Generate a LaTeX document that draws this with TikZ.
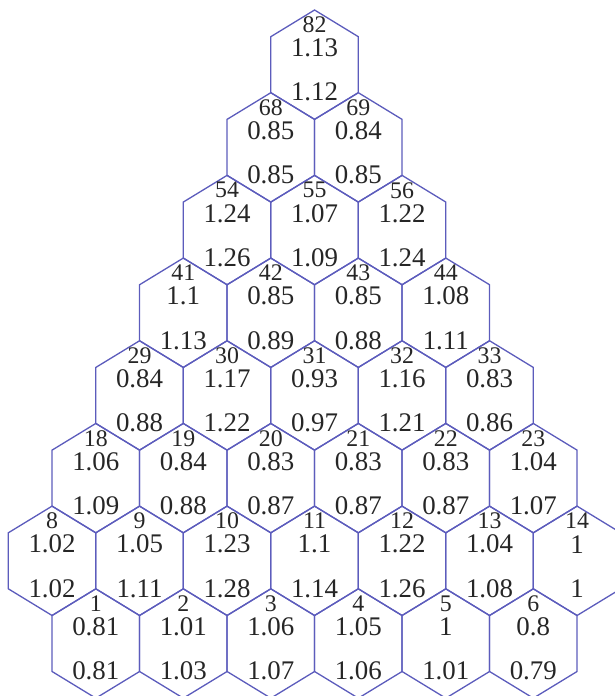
\documentclass[tikz,border=0pt]{standalone}
\usepackage{fontspec}
\setmainfont{Liberation Serif}
\definecolor{hexblue}{RGB}{92,92,188}
\tikzset{hexline/.style={draw=hexblue, line width=0.85pt},
  hextxt/.style={inner sep=0pt, text=black!85, font=\fontsize{17.5}{20}\selectfont},
  idxtxt/.style={hextxt, font=\fontsize{15.5}{18}\selectfont}}
\newcommand{\xzero}{1.19}
\newcommand{\hexa}[5]{%
  \draw[hexline] (#1,#2) +(0,1.25) -- +(1,0.64) -- +(1,-0.64) -- +(0,-1.25) -- +(-1,-0.64) -- +(-1,0.64) -- cycle;
  \node[idxtxt] (n#3) at (#1,#2+0.91) {#3};
  \node[hextxt] (a#3) at (#1,#2+0.38) {#4};
  \node[hextxt] (b#3) at (#1,#2-0.63) {#5};}

\begin{document}
\begin{tikzpicture}
  \useasboundingbox (0,0) rectangle (14.057,15.909);
  \clip (0,0) rectangle (14.057,15.909);
  % row 1 and row 2 (shifted left)
  \foreach \idx/\va/\vb [count=\k from 0] in {1/0.81/0.81, 2/1.01/1.03, 3/1.06/1.07, 4/1.05/1.06, 5/1/1.01, 6/0.8/0.79}
    \hexa{\xzero+1+2*\k}{1.2}{\idx}{\va}{\vb};
  \foreach \idx/\va/\vb [count=\k from 0] in {8/1.02/1.02, 9/1.05/1.11, 10/1.23/1.28, 11/1.1/1.14, 12/1.22/1.26, 13/1.04/1.08, 14/1/1}
    \hexa{\xzero+2*\k}{3.09}{\idx}{\va}{\vb};
  % the triangle above
  \foreach \idx/\va/\vb [count=\k from 0] in {18/1.06/1.09, 19/0.84/0.88, 20/0.83/0.87, 21/0.83/0.87, 22/0.83/0.87, 23/1.04/1.07}
    \hexa{\xzero+1+2*\k}{4.98}{\idx}{\va}{\vb};
  \foreach \idx/\va/\vb [count=\k from 0] in {29/0.84/0.88, 30/1.17/1.22, 31/0.93/0.97, 32/1.16/1.21, 33/0.83/0.86}
    \hexa{\xzero+2+2*\k}{6.87}{\idx}{\va}{\vb};
  \foreach \idx/\va/\vb [count=\k from 0] in {41/1.1/1.13, 42/0.85/0.89, 43/0.85/0.88, 44/1.08/1.11}
    \hexa{\xzero+3+2*\k}{8.76}{\idx}{\va}{\vb};
  \foreach \idx/\va/\vb [count=\k from 0] in {54/1.24/1.26, 55/1.07/1.09, 56/1.22/1.24}
    \hexa{\xzero+4+2*\k}{10.65}{\idx}{\va}{\vb};
  \foreach \idx/\va/\vb [count=\k from 0] in {68/0.85/0.85, 69/0.84/0.85}
    \hexa{\xzero+5+2*\k}{12.54}{\idx}{\va}{\vb};
  \hexa{\xzero+6}{14.43}{82}{1.13}{1.12}
\end{tikzpicture}
\end{document}
